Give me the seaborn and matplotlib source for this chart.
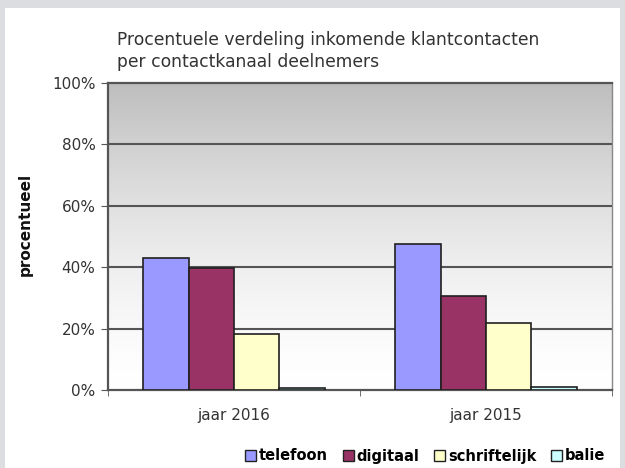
import numpy as np
import pandas as pd
import seaborn as sns
import matplotlib.pyplot as plt
import matplotlib.patches as mpatches

# data
jaren = ["jaar 2016", "jaar 2015"]
kanalen = ["telefoon", "digitaal", "schriftelijk", "balie"]
pct_2016 = [43.1, 39.8, 18.1, 0.7]
pct_2015 = [47.6, 30.5, 21.9, 1.1]
kleuren = ["#9999FF", "#993366", "#FFFFCC", "#CCFFFF"]

records = []
for jaar, waarden in zip(jaren, [pct_2016, pct_2015]):
    for kanaal, w in zip(kanalen, waarden):
        records.append({"jaar": jaar, "kanaal": kanaal, "pct": w})
df = pd.DataFrame(records)

plt.rcParams["font.family"] = ["DejaVu Sans"]

fig = plt.figure(figsize=(6.25, 4.68), dpi=100, facecolor="#dcdde0")
# white panel inside the grey frame
fig.patches.append(mpatches.Rectangle((5 / 625, 0), 615 / 625, 460 / 468,
                                      transform=fig.transFigure,
                                      facecolor="white", edgecolor="none",
                                      zorder=-10))

ax = fig.add_axes([108 / 625, 78 / 468, 504 / 625, 307 / 468])
ax.set_zorder(1)

# gradient background, grey at top to white at bottom
t = np.linspace(0, 1, 256).reshape(-1, 1)
grey = (255 - 65 * t ** 1.5) / 255
grad = np.dstack([grey, grey, grey])
ax.imshow(grad, extent=[0, 1, 0, 1], transform=ax.transAxes, origin="lower",
          aspect="auto", zorder=0)

sns.barplot(data=df, x="jaar", y="pct", hue="kanaal", hue_order=kanalen,
            palette=kleuren, width=0.72, edgecolor="#202020", linewidth=1.2,
            saturation=1, legend=False, ax=ax, zorder=3)

ax.set_xlim(-0.5, 1.5)
ax.set_ylim(0, 100)
ax.set_yticks([0, 20, 40, 60, 80, 100])
ax.set_yticklabels(["0%", "20%", "40%", "60%", "80%", "100%"])
for y in [20, 40, 60, 80]:
    ax.axhline(y, color="#555555", linewidth=1.5, zorder=1)

ax.set_xticks([0, 1])
ax.set_xticklabels(jaren)
ax.set_xticks([-0.5, 0.5, 1.5], minor=True)
ax.tick_params(axis="x", which="major", length=0, pad=13, labelsize=11,
               colors="#333333")
ax.tick_params(axis="x", which="minor", length=4, color="#555555")
ax.tick_params(axis="y", length=5, pad=4, labelsize=11, color="#555555",
               labelcolor="#333333")

ax.set_xlabel("")
ax.set_ylabel("procentueel", fontsize=11, fontweight="bold", color="#111111")
ax.yaxis.set_label_coords(-0.15, 0.54)

for side in ["left", "bottom", "top"]:
    ax.spines[side].set_color("#555555")
    ax.spines[side].set_linewidth(1.6)
ax.spines["right"].set_color("#888888")
ax.spines["right"].set_linewidth(1.0)

fig.text(117 / 625, 1 - 31 / 468,
         "Procentuele verdeling inkomende klantcontacten\nper contactkanaal deelnemers",
         fontsize=12.3, color="#333333", ha="left", va="top", linespacing=1.3)

handles = [mpatches.Patch(facecolor=c, edgecolor="#222222", linewidth=1.0, label=k)
           for k, c in zip(kanalen, kleuren)]
fig.legend(handles=handles, loc="center right", bbox_to_anchor=(611 / 625, 1 - 456 / 468),
           ncol=4, frameon=False, handlelength=0.75, handleheight=0.75,
           handletextpad=0.2, columnspacing=1.0, borderaxespad=0,
           prop={"weight": "bold", "size": 10.5})

fig.savefig("out.png", dpi=100, facecolor=fig.get_facecolor())
